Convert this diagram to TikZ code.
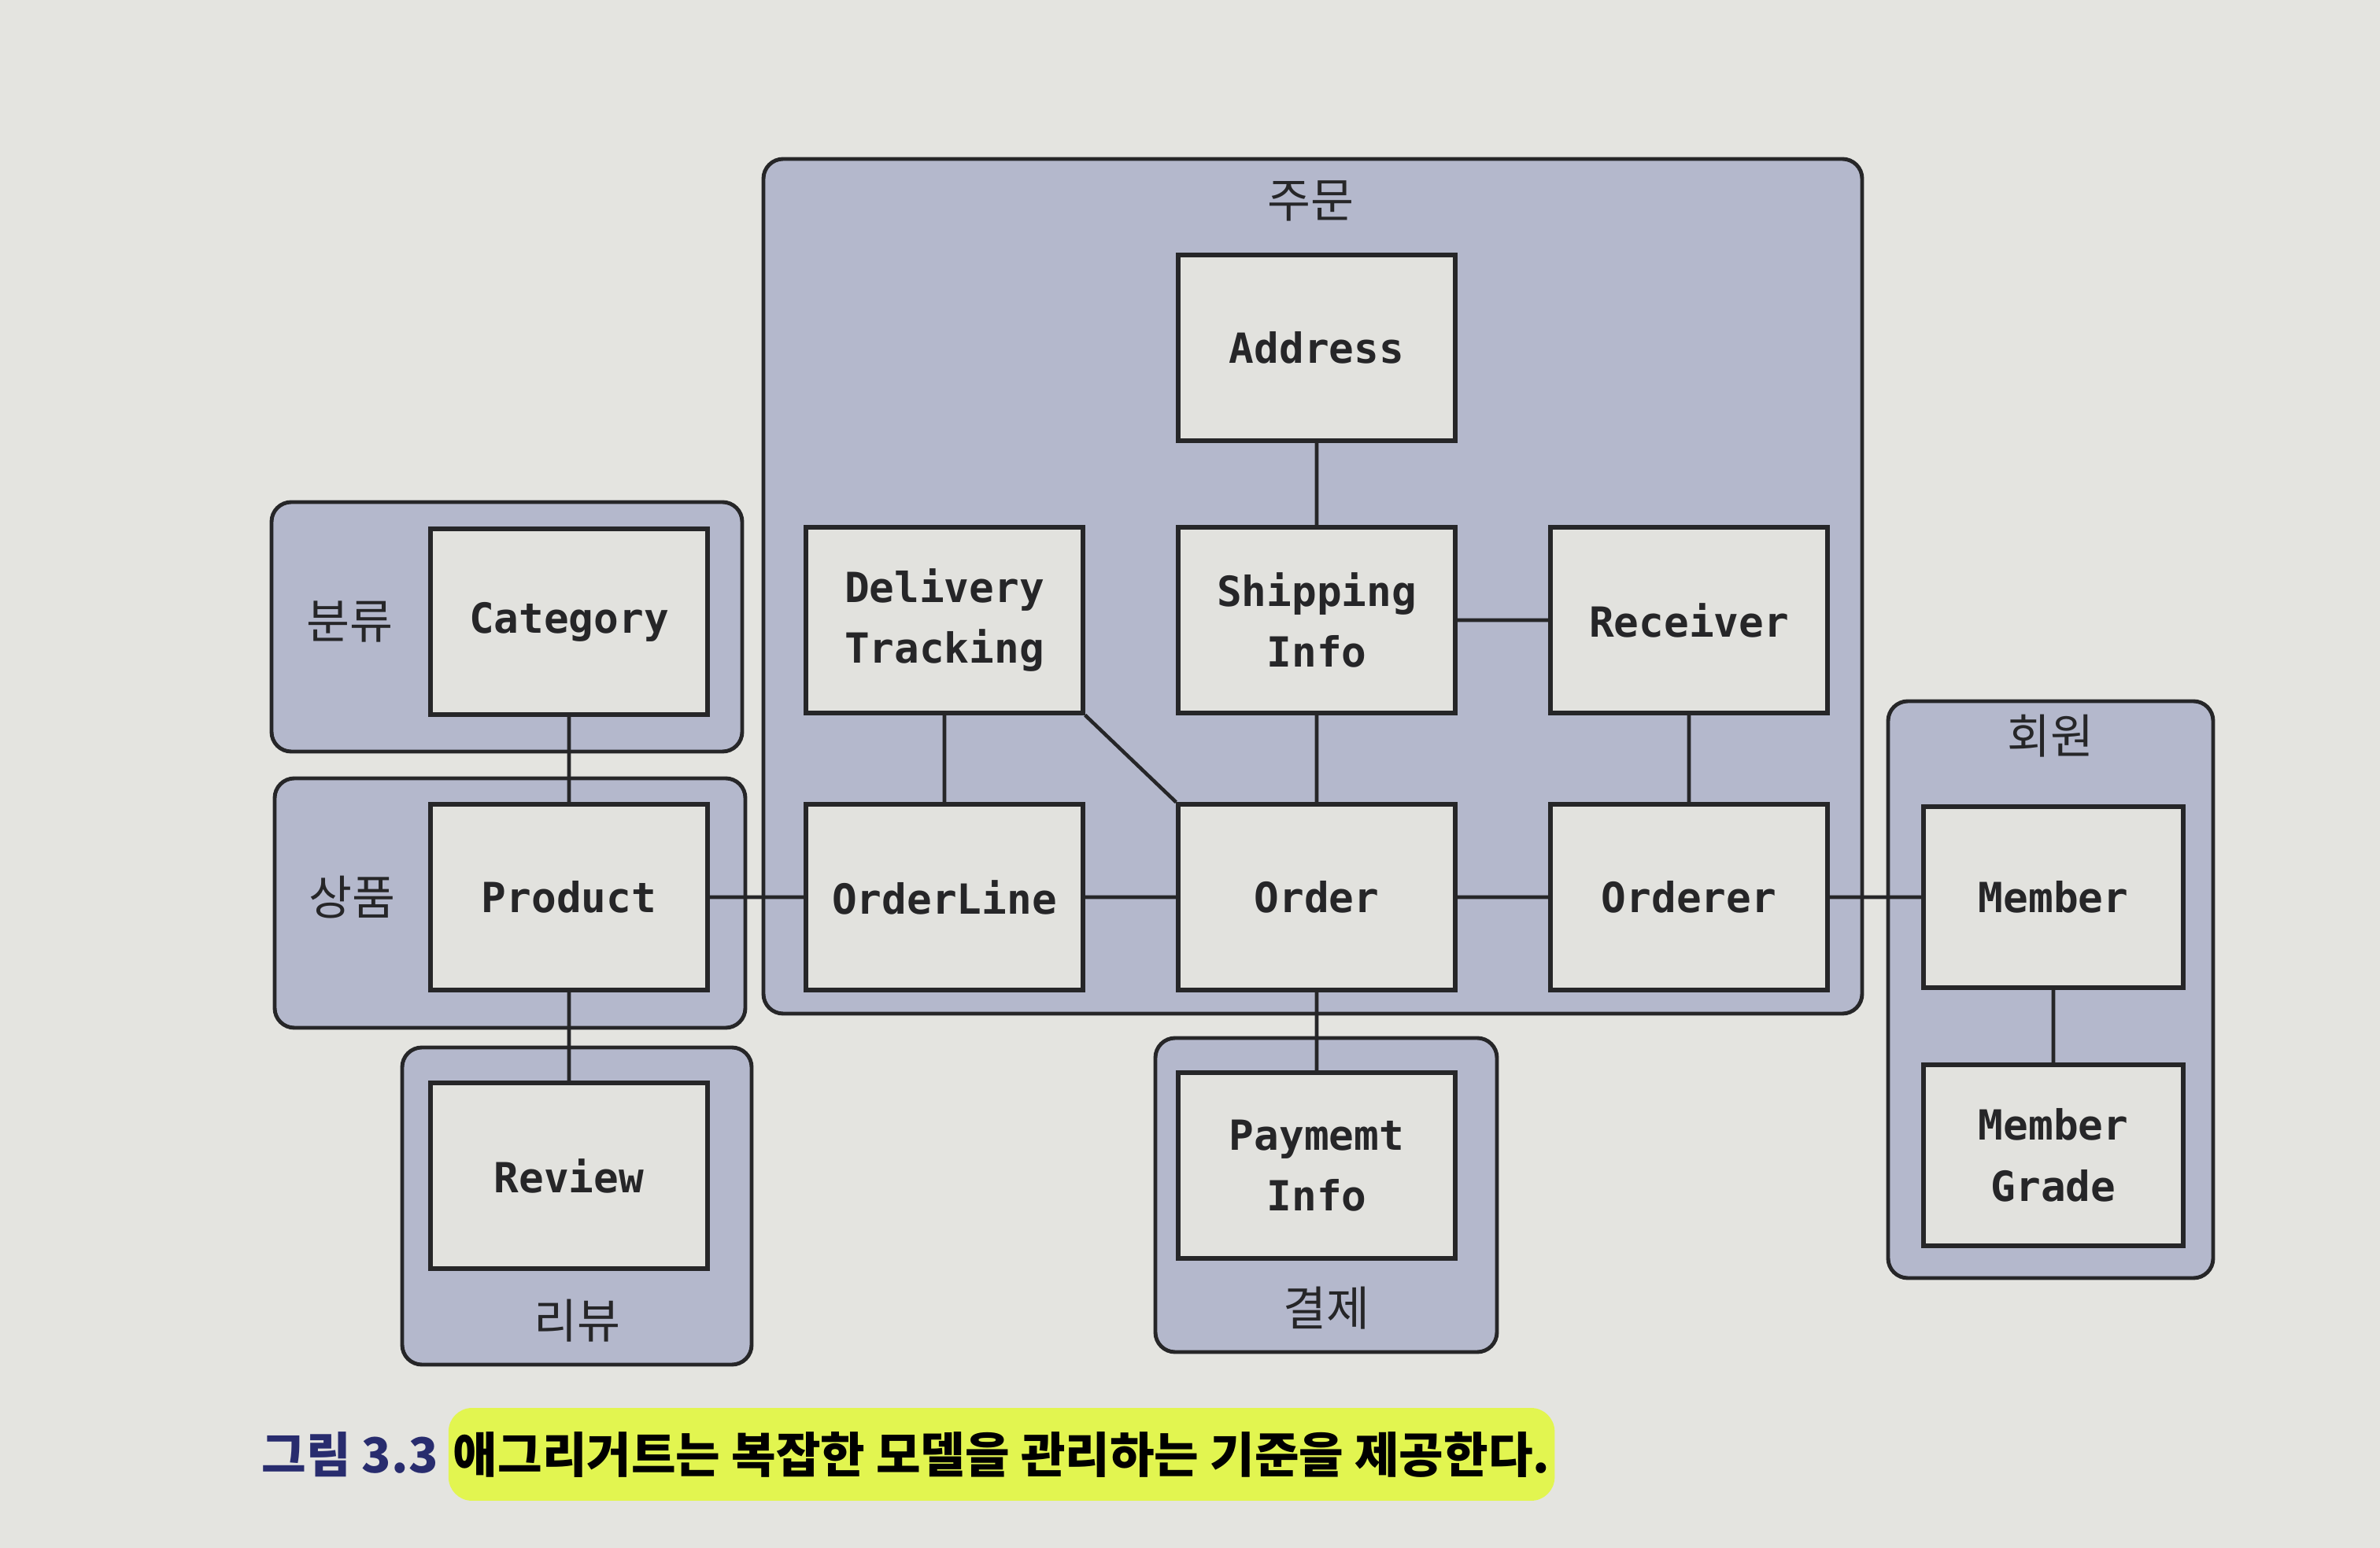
\documentclass[tikz,border=0pt]{standalone}
\usepackage{fontspec}
\setmainfont{Noto Sans CJK KR}
\newfontfamily\boxfont{DejaVu Sans Mono}
\usetikzlibrary{positioning}
\definecolor{paper}{RGB}{228,228,224}
\definecolor{aggfill}{RGB}{180,184,204}
\definecolor{boxfill}{RGB}{226,226,222}
\definecolor{ink}{RGB}{38,38,40}
\definecolor{capblue}{RGB}{40,44,110}
\definecolor{marker}{RGB}{226,245,80}
\tikzset{
	entity/.style={draw=ink, line width=1.5pt, fill=boxfill, minimum width=3.52cm, minimum height=2.36cm,
		align=center, inner sep=0pt, text=ink, font=\boxfont\bfseries\fontsize{15}{22}\selectfont},
	aggregate/.style={draw=ink, line width=1.4pt, fill=aggfill, rounded corners=0.25cm, inner sep=0pt},
	agglabel/.style={text=ink, font=\fontsize{17}{20}\selectfont},
	link/.style={draw=ink, line width=1.3pt},
}

\begin{document}
\begin{tikzpicture}
	\useasboundingbox[fill=paper] (0,0) rectangle (30.24,-19.67);
	% aggregates
	\node[aggregate, minimum width=5.98cm, minimum height=3.17cm] (gCategory) at (6.44,-7.965) {};
	\node[aggregate, minimum width=5.98cm, minimum height=3.17cm] (gProduct) at (6.48,-11.475) {};
	\node[aggregate, minimum width=4.44cm, minimum height=4.03cm] (gReview) at (7.33,-15.325) {};
	\node[aggregate, minimum width=13.96cm, minimum height=10.86cm] (gOrder) at (16.68,-7.45) {};
	\node[aggregate, minimum width=4.34cm, minimum height=3.99cm] (gPayment) at (16.85,-15.185) {};
	\node[aggregate, minimum width=4.13cm, minimum height=7.33cm] (gMember) at (26.055,-12.575) {};
	\node[agglabel] (lCategory) at (4.44,-7.90) {분류};
	\node[agglabel] (lProduct) at (4.47,-11.40) {상품};
	\node[agglabel] (lReview) at (7.33,-16.78) {리뷰};
	\node[agglabel] (lOrder) at (16.65,-2.55) {주문};
	\node[agglabel] (lPayment) at (16.85,-16.62) {결제};
	\node[agglabel] (lMember) at (26.05,-9.35) {회원};
	% entities
	\node[entity] (category) at (7.23,-7.90) {Category};
	\node[entity] (product) at (7.23,-11.40) {Product};
	\node[entity] (review) at (7.23,-14.94) {Review};
	\node[entity] (address) at (16.73,-4.42) {Address};
	\node[entity] (delivery) at (12.00,-7.88) {Delivery\\Tracking};
	\node[entity] (shipping) at (16.73,-7.88) {Shipping\\Info};
	\node[entity] (receiver) at (21.46,-7.88) {Receiver};
	\node[entity] (orderline) at (12.00,-11.40) {OrderLine};
	\node[entity] (order) at (16.73,-11.40) {Order};
	\node[entity] (orderer) at (21.46,-11.40) {Orderer};
	\node[entity] (payment) at (16.73,-14.81) {Paymemt\\Info};
	\node[entity, minimum width=3.3cm, minimum height=2.3cm] (member) at (26.09,-11.40) {Member};
	\node[entity, minimum width=3.3cm, minimum height=2.3cm] (grade) at (26.09,-14.68) {Member\\Grade};
	\draw[link]
	(category) -- (product)
	(product) -- (review)
	(product) -- (orderline)
	(delivery) -- (orderline)
	(delivery.south east) -- (order.north west)
	(orderline) -- (order)
	(address) -- (shipping)
	(shipping) -- (order)
	(shipping) -- (receiver)
	(receiver) -- (orderer)
	(order) -- (orderer)
	(orderer) -- (member)
	(member) -- (grade)
	(order) -- (payment)
	;
	% caption
	\node[anchor=west, inner sep=0pt, text=capblue, font=\bfseries\fontsize{17.5}{21}\selectfont] (capnum) at (3.32,-18.48) {그림 3.3};
	\node[right=0.12cm of capnum, fill=marker, rounded corners=0.3cm, inner xsep=0.06cm, inner ysep=0.3cm,
		text=black, font=\bfseries\fontsize{17.5}{21}\selectfont] (captext) {애그리거트는 복잡한 모델을 관리하는 기준을 제공한다.};
\end{tikzpicture}
\end{document}
